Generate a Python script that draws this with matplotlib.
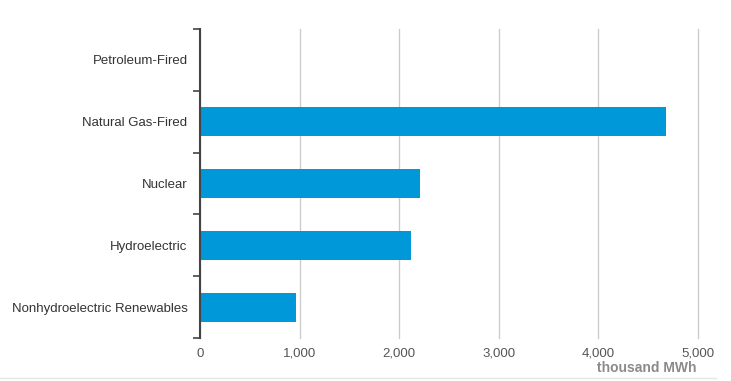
import numpy as np
import matplotlib.pyplot as plt

categories = ["Petroleum-Fired", "Natural Gas-Fired", "Nuclear", "Hydroelectric",
              "Nonhydroelectric Renewables"]
values = [3, 4680, 2210, 2120, 965]
xticks = [0, 1000, 2000, 3000, 4000, 5000]

plt.rcParams['font.family'] = ['Liberation Sans', 'DejaVu Sans']

fig = plt.figure(figsize=(7.31, 3.81), dpi=100)
ax = fig.add_axes([0.2736, 0.1129, 0.6813, 0.811])

y = np.arange(len(categories))
ax.barh(y, values, height=0.47, color='#0098d9', zorder=3)
ax.set_ylim(len(categories) - 0.5, -0.5)
ax.set_xlim(0, 5000)

ax.set_yticks(y)
ax.set_yticklabels(categories, fontsize=9.5, color='#333333')
ax.set_yticks(np.arange(-0.5, len(categories)), minor=True)
ax.tick_params(axis='y', which='major', length=0, pad=9)
ax.tick_params(axis='y', which='minor', length=5, width=1.2, color='#444444')

ax.set_xticks(xticks)
ax.set_xticklabels([f"{v:,}" for v in xticks], fontsize=9.5, color='#555555')
ax.tick_params(axis='x', length=0, pad=7)
ax.grid(axis='x', color='#cccccc', linewidth=1, zorder=0)
for gl in ax.get_xgridlines():
    gl.set_clip_on(False)

for s in ['top', 'right', 'bottom']:
    ax.spines[s].set_visible(False)
ax.spines['left'].set_color('#444444')
ax.spines['left'].set_linewidth(1.5)
ax.spines['left'].set_zorder(4)

fig.text(0.953, 0.034, "thousand MWh", ha='right', va='center', fontsize=10,
         fontweight='bold', color='#8a8a8a')
fig.add_artist(plt.Line2D([0.0, 0.98], [0.008, 0.008], color='#e6e6e6', linewidth=1))

fig.savefig("out.png", dpi=100)
